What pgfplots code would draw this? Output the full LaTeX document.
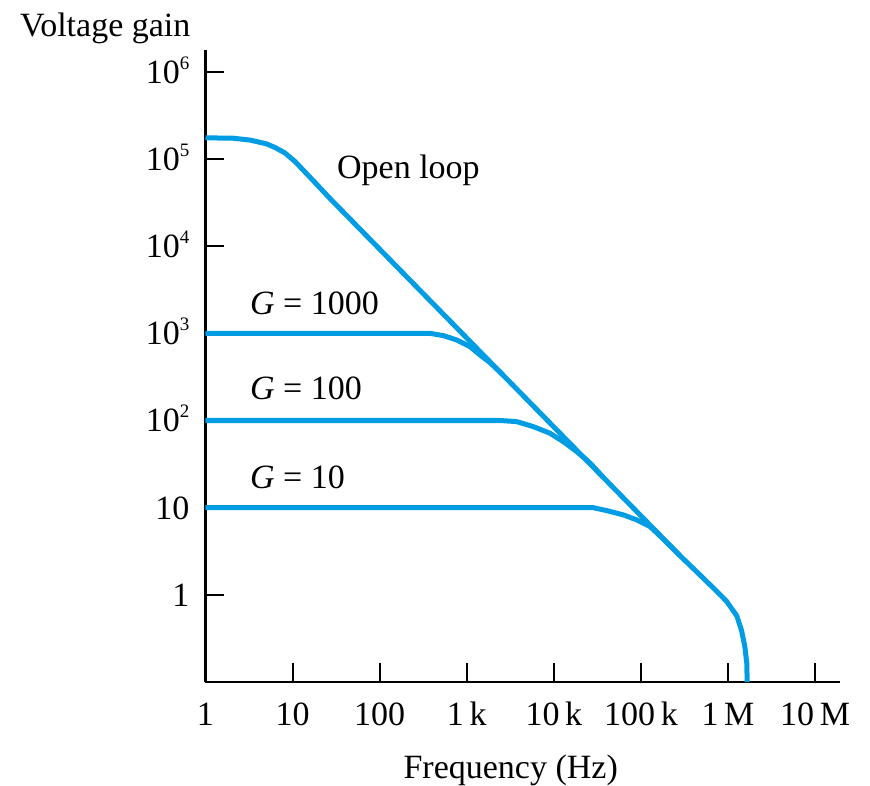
\documentclass[border=0pt]{standalone}
\usepackage{fontspec}
\setmainfont{Liberation Serif}
\usepackage{pgfplots}
\pgfplotsset{compat=1.18}
\usetikzlibrary{calc}
\definecolor{curve}{RGB}{0,157,228}
\newcommand\sps[1]{\raisebox{14pt}{\fontsize{19}{19}\selectfont #1}}
\tikzset{gcurve/.style={draw=curve, line width=5pt, line join=round, mark=none}}
\begin{document}
\fontsize{34}{40}\selectfont
\begin{tikzpicture}
\begin{axis}[
  name=ax,
  scale only axis, width=634.5pt, height=632pt,
  xmode=log, ymode=log,
  xmin=1, xmax=1.93e7, ymin=0.1, ymax=1.78e6,
  axis x line=bottom, axis y line=left,
  axis line style={-, line width=2.2pt, black},
  xtick={1,10,100,1000,10000,100000,1000000,10000000},
  xticklabels={1,10,100,1\,k,10\,k,100\,k,1\,M,10\,M},
  ytick={1,10,100,1000,10000,100000,1000000},
  yticklabels={1,10,10\sps{2},10\sps{3},10\sps{4},10\sps{5},10\sps{6}},
  minor tick style={draw=none},
  tick align=inside, major tick length=19pt,
  major tick style={black, line width=2pt},
  every tick label/.append style={inner sep=0pt},
  xticklabel style={anchor=base, yshift=-43pt},
  yticklabel style={anchor=base east, xshift=-16pt, yshift=-11.5pt},
  every axis x label/.style={at={(axis description cs:0.481,-0.152)}, anchor=base},
  every axis y label/.style={at={(axis description cs:-0.158,1.022)}, anchor=base},
  xlabel={Frequency (Hz)},
  ylabel={Voltage gain},
  clip=false,
]
\addplot[gcurve] coordinates {
 (1,1.75e5) (2.08,1.73e5) (3.24,1.65e5) (5.04,1.49e5) (6.28,1.355e5)
 (8.18,1.172e5) (10.66,9.36e4) (13.88,7.10e4) (18.1,5.37e4) (26.9,3.52e4)
 (1.2e5,6.69)
 (2.80e5,2.82) (4.36e5,1.84) (6.77e5,1.20) (9.64e5,0.841) (1.26e6,0.575)
 (1.43e6,0.389) (1.56e6,0.255) (1.64e6,0.165) (1.66e6,0.1)
};
\addplot[gcurve] coordinates {
 (1,1000) (378,1000) (537,941) (766,840) (1089,703) (1419,565) (1846,462) (2606,333)
};
\addplot[gcurve] coordinates {
 (1,100) (2404,100) (3740,97.1) (5800,85.1) (9010,71.5) (12820,57.3)
 (18280,44.0) (25960,32.6) (36600,22.5)
};
\addplot[gcurve] coordinates {
 (1,10) (28300,10) (40400,9.26) (62600,8.27) (89300,7.25) (1.27e5,6.07)
 (1.8e5,4.38) (2.80e5,2.82)
};
\node[anchor=base west, inner sep=0pt] at (axis cs:32.3,5.9e4) {Open loop};
\node[anchor=base west, inner sep=0pt] at (axis cs:3.24,1626) {\textit{G} = 1000};
\node[anchor=base west, inner sep=0pt] at (axis cs:3.24,172.3) {\textit{G} = 100};
\node[anchor=base west, inner sep=0pt] at (axis cs:3.24,16.4) {\textit{G} = 10};
\end{axis}
\pgfresetboundingbox
\path ($(ax.south west)+(-205.5pt,-103pt)$) rectangle ($(ax.south west)+(664.5pt,682pt)$);
\end{tikzpicture}
\end{document}
